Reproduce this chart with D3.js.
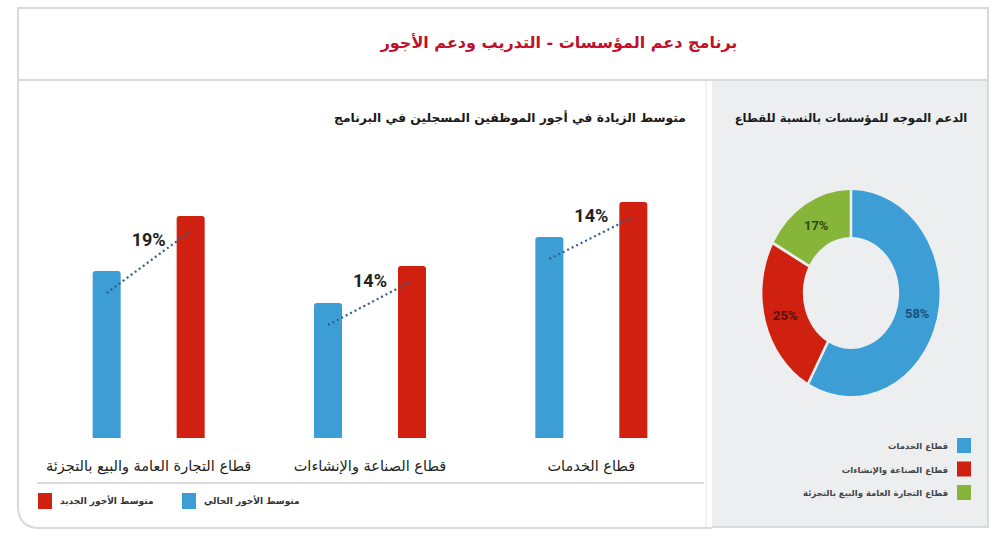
<!DOCTYPE html>
<html lang="ar">
<head>
<meta charset="utf-8">
<script src="https://cdn.jsdelivr.net/npm/d3@7"></script>
<style>
  html, body { margin: 0; padding: 0; background: #fff; }
  svg { display: block; font-family: 'DejaVu Sans', sans-serif; }
</style>
</head>
<body>
<div id="chart"></div>
<script>
// data (bars have no axis, units are arbitrary)
const sectors = ['قطاع الخدمات', 'قطاع الصناعة والإنشاءات', 'قطاع التجارة العامة والبيع بالتجزئة']
const seriesKeys = ['current', 'new']
const seriesNames = ['متوسط الأجور الحالي', 'متوسط الأجور الجديد']
const currentWage = [201, 135, 167]
const newWage = [236, 172, 222]
const increaseLabels = ['14%', '14%', '19%']
const supportShare = [58, 25, 17]

const title = 'برنامج دعم المؤسسات - التدريب ودعم الأجور'
const barTitle = 'متوسط الزيادة في أجور الموظفين المسجلين في البرنامج'
const donutTitle = 'الدعم الموجه للمؤسسات بالنسبة للقطاع'

const BLUE = '#3d9ed6'
const RED = '#d0200f'
const GREEN = '#86b53a'
const sectorColors = [BLUE, RED, GREEN]
const labelColors = ['#1c4f7c', '#5a0e0a', '#2c4a0e']

const width = 1000
const height = 554

const svg = d3.select('#chart').append('svg')
  .attr('width', width)
  .attr('height', height)
  .attr('viewBox', `0 0 ${width} ${height}`)

// frame
const frame = svg.append('g')
frame.append('rect')
  .attr('x', 712).attr('y', 80).attr('width', 276).attr('height', 447)
  .attr('fill', '#eceef0')
frame.append('path')
  .attr('d', 'M712,528 L40,528 Q18,528 18,506 L18,80')
  .attr('fill', 'none').attr('stroke', '#d9d9d9').attr('stroke-width', 2)
frame.append('rect')
  .attr('x', 18).attr('y', 8).attr('width', 970).attr('height', 72)
  .attr('fill', '#fff').attr('stroke', '#d9d9d9').attr('stroke-width', 2)
frame.append('path')
  .attr('d', 'M988,80 L988,527 L712,527')
  .attr('fill', 'none').attr('stroke', '#d9d9d9').attr('stroke-width', 2)
frame.append('line')
  .attr('x1', 706).attr('x2', 706).attr('y1', 81).attr('y2', 527)
  .attr('stroke', '#e4e4e4').attr('stroke-width', 1)

svg.append('text')
  .attr('x', 559).attr('y', 48)
  .attr('text-anchor', 'middle')
  .attr('direction', 'rtl')
  .attr('font-size', 16).attr('font-weight', 'bold')
  .attr('fill', '#c0102c')
  .text(title)

svg.append('text')
  .attr('x', 510).attr('y', 122)
  .attr('text-anchor', 'middle')
  .attr('direction', 'rtl')
  .attr('font-size', 12.3).attr('font-weight', 'bold')
  .attr('fill', '#1a1a1a')
  .text(barTitle)

svg.append('text')
  .attr('x', 851).attr('y', 122)
  .attr('text-anchor', 'middle')
  .attr('direction', 'rtl')
  .attr('font-size', 11.6).attr('font-weight', 'bold')
  .attr('fill', '#1a1a1a')
  .text(donutTitle)

// bar chart
const baseY = 438
const x0 = d3.scaleBand().domain(sectors).range([702, 38])
const x1 = d3.scalePoint().domain(seriesKeys).range([-42, 42])
const y = d3.scaleLinear().domain([0, 250]).range([baseY, baseY - 250])
const barW = 28

const rows = sectors.map((s, i) => ({
  sector: s,
  current: currentWage[i],
  new: newWage[i],
  label: increaseLabels[i],
  cx: x0(s) + x0.bandwidth() / 2,
}))

function topRounded(x, yTop, w, h, r) {
  return `M${x},${yTop + h} L${x},${yTop + r} Q${x},${yTop} ${x + r},${yTop} ` +
    `L${x + w - r},${yTop} Q${x + w},${yTop} ${x + w},${yTop + r} L${x + w},${yTop + h} Z`
}

const groups = svg.append('g').selectAll('g')
  .data(rows)
  .join('g')

groups.selectAll('path.bar')
  .data((d) => seriesKeys.map((k) => ({ key: k, value: d[k], cx: d.cx })))
  .join('path')
  .attr('class', 'bar')
  .attr('fill', (d) => (d.key === 'current' ? BLUE : RED))
  .attr('d', (d) => topRounded(d.cx + x1(d.key) - barW / 2, y(d.value), barW, baseY - y(d.value), 3))

groups.append('line')
  .attr('x1', (d) => d.cx + x1('current'))
  .attr('y1', (d) => y(d.current) + 22)
  .attr('x2', (d) => d.cx + x1('new'))
  .attr('y2', (d) => y(d.new) + 15)
  .attr('stroke', '#2f5f8e')
  .attr('stroke-width', 2.2)
  .attr('stroke-dasharray', '2,3')

groups.append('text')
  .attr('x', (d) => d.cx)
  .attr('y', (d) => (y(d.current) + 22 + y(d.new) + 15) / 2 - 16)
  .attr('text-anchor', 'middle')
  .attr('font-family', 'Roboto, sans-serif')
  .attr('font-size', 18).attr('font-weight', 'bold')
  .attr('fill', '#222')
  .text((d) => d.label)

groups.append('text')
  .attr('x', (d) => d.cx)
  .attr('y', 471)
  .attr('text-anchor', 'middle')
  .attr('direction', 'rtl')
  .attr('font-size', 14.5)
  .attr('fill', '#222')
  .text((d) => d.sector)

svg.append('line')
  .attr('x1', 37).attr('x2', 704).attr('y1', 483).attr('y2', 483)
  .attr('stroke', '#cfcfcf').attr('stroke-width', 1.5)

// bottom legend
const legendX = [182, 38]
const leg = svg.append('g').selectAll('g')
  .data(seriesKeys)
  .join('g')
  .attr('transform', (d, i) => `translate(${legendX[i]},493)`)
leg.append('rect')
  .attr('width', 14).attr('height', 16)
  .attr('fill', (d) => (d === 'current' ? BLUE : RED))
leg.append('text')
  .attr('x', 22).attr('y', 11)
  .attr('text-anchor', 'end')
  .attr('direction', 'rtl')
  .attr('font-size', 9).attr('font-weight', 'bold')
  .attr('fill', '#333')
  .text((d, i) => seriesNames[i])

// donut
const cx = 851
const cy = 293
const sx = 0.86
const outerR = 103
const innerR = 56
const pie = d3.pie().sort(null).value((d) => d)
const arcs = pie(supportShare)
const arc = d3.arc().innerRadius(innerR).outerRadius(outerR).padAngle(0.025)

svg.append('g')
  .attr('transform', `translate(${cx},${cy}) scale(${sx},1)`)
  .selectAll('path')
  .data(arcs)
  .join('path')
  .attr('d', arc)
  .attr('fill', (d, i) => sectorColors[i])

svg.append('g').selectAll('text')
  .data(arcs)
  .join('text')
  .attr('x', (d) => cx + arc.centroid(d)[0] * sx)
  .attr('y', (d) => cy + arc.centroid(d)[1] + 5)
  .attr('text-anchor', 'middle')
  .attr('font-family', 'Roboto, sans-serif')
  .attr('font-size', 13).attr('font-weight', 'bold')
  .attr('fill', (d, i) => labelColors[i])
  .text((d) => d.data + '%')

// donut legend
const dleg = svg.append('g').selectAll('g')
  .data(sectors)
  .join('g')
  .attr('transform', (d, i) => `translate(957,${438 + i * 23.5})`)
dleg.append('rect')
  .attr('width', 14).attr('height', 15)
  .attr('fill', (d, i) => sectorColors[i])
dleg.append('text')
  .attr('x', -9).attr('y', 11)
  .attr('text-anchor', 'start')
  .attr('direction', 'rtl')
  .attr('font-size', 8.5).attr('font-weight', 'bold')
  .attr('fill', '#444')
  .text((d) => d)
</script>
</body>
</html>
